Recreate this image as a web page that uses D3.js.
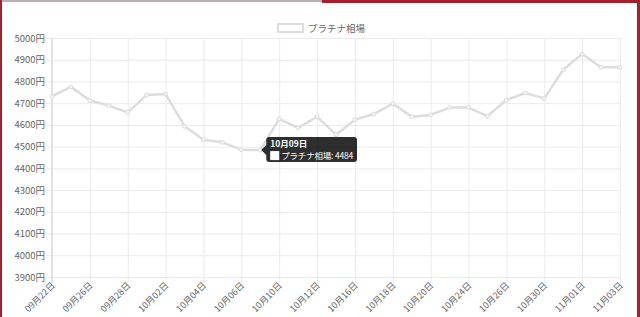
<!DOCTYPE html>
<html lang="ja">
  <head>
    <meta charset="utf-8">
    <title>プラチナ相場</title>
    <script src="https://d3js.org/d3.v7.min.js" charset="utf-8"></script>
    <style>
      html, body { margin: 0; padding: 0; background: #fff; }
      #chart text { font-family: "Noto Sans CJK JP", "Noto Sans", Arial, sans-serif; }
    </style>
  </head>
  <body>
    <div id="chart"></div>
  <script type="text/javascript">
    // data
    var dates = ["09月22日","09月25日","09月26日","09月27日","09月28日","09月29日","10月02日","10月03日",
                 "10月04日","10月05日","10月06日","10月09日","10月10日","10月11日","10月12日","10月13日",
                 "10月16日","10月17日","10月18日","10月19日","10月20日","10月23日","10月24日","10月25日",
                 "10月26日","10月27日","10月30日","10月31日","11月01日","11月02日","11月03日"];
    var prices = [4731,4775,4712,4689,4658,4738,4742,4594,4532,4520,4486,4484,4628,4586,4637,4555,
                  4624,4650,4698,4638,4646,4680,4680,4640,4715,4747,4722,4854,4926,4865,4865];
    var seriesName = "プラチナ相場";
    var yTicks = [3900,4000,4100,4200,4300,4400,4500,4600,4700,4800,4900,5000];
    var xTickLabels = dates.filter(function(d, i) { return i % 2 == 0; });
    var tooltipIndex = 11;

    var W = 640, H = 317;
    var margin = {top: 38, right: 20, bottom: 40, left: 52},
        width = W - margin.left - margin.right,
        height = H - margin.top - margin.bottom;

    var root = d3.select("#chart").append("svg")
        .attr("width", W)
        .attr("height", H);

    // page frame
    root.append("rect").attr("x", 0).attr("y", 0).attr("width", 322).attr("height", 2).attr("fill", "#b9b0b2");
    root.append("rect").attr("x", 322).attr("y", 0).attr("width", W - 322).attr("height", 3).attr("fill", "#a51f2d");
    root.append("rect").attr("x", 0).attr("y", 0).attr("width", 2).attr("height", H).attr("fill", "#a51f2d");
    root.append("rect").attr("x", W - 3).attr("y", 0).attr("width", 3).attr("height", H).attr("fill", "#a51f2d");

    var svg = root.append("g")
        .attr("transform", "translate(" + margin.left + "," + margin.top + ")");

    var x = d3.scalePoint()
        .domain(dates)
        .range([0, width]);

    var y = d3.scaleLinear()
        .domain([3900, 5000])
        .range([height, 0]);

    var yAxis = svg.append("g")
        .call(d3.axisLeft(y)
          .tickValues(yTicks)
          .tickSize(-width)
          .tickSizeOuter(0)
          .tickFormat(function(d) { return d + "円"; }));
    yAxis.select(".domain").remove();
    yAxis.selectAll(".tick line")
        .attr("x1", -6)
        .attr("stroke", "#ebebeb");
    yAxis.selectAll(".tick text")
        .attr("x", -7)
        .attr("fill", "#666")
        .style("font-size", "9.5px");

    var xAxis = svg.append("g")
        .attr("transform", "translate(0," + height + ")")
        .call(d3.axisBottom(x)
          .tickValues(xTickLabels)
          .tickSize(-height)
          .tickSizeOuter(0));
    xAxis.select(".domain").remove();
    xAxis.selectAll(".tick line")
        .attr("y1", 6)
        .attr("stroke", "#ebebeb");
    xAxis.selectAll(".tick text")
        .attr("y", 0)
        .attr("dy", 0)
        .attr("transform", "translate(3,9) rotate(-45)")
        .attr("text-anchor", "end")
        .attr("fill", "#666")
        .style("font-size", "9px");

    // left axis line
    svg.append("line")
        .attr("x1", 0).attr("x2", 0)
        .attr("y1", 0).attr("y2", height + 6)
        .attr("stroke", "#dcdcdc")
        .attr("stroke-width", 1.5);

    // the series
    var line = d3.line()
        .x(function(d, i) { return x(dates[i]); })
        .y(function(d) { return y(d); });

    svg.append("path")
        .datum(prices)
        .attr("d", line)
        .attr("fill", "none")
        .attr("stroke", "#dddddd")
        .attr("stroke-width", 2.5)
        .attr("stroke-linejoin", "round");

    svg.selectAll(".pt")
      .data(prices)
      .enter()
      .append("circle")
        .attr("class", "pt")
        .attr("cx", function(d, i) { return x(dates[i]); })
        .attr("cy", function(d) { return y(d); })
        .attr("r", 2)
        .attr("fill", "#f4f4f4")
        .attr("stroke", "#dddddd")
        .attr("stroke-width", 1);

    // legend
    var legend = root.append("g").attr("transform", "translate(277,23)");
    legend.append("rect")
        .attr("x", 1).attr("y", 1)
        .attr("width", 25).attr("height", 8)
        .attr("fill", "#fff")
        .attr("stroke", "#dddddd")
        .attr("stroke-width", 2);
    legend.append("text")
        .attr("x", 31).attr("y", 8.5)
        .attr("fill", "#666")
        .style("font-size", "9.5px")
        .text(seriesName);

    // tooltip
    var tx = x(dates[tooltipIndex]), ty = y(prices[tooltipIndex]);
    var tip = svg.append("g")
        .attr("transform", "translate(" + (tx + 6) + "," + (ty - 13) + ")");
    var tipBg = tip.append("path")
        .attr("fill", "rgba(0,0,0,0.82)");
    var t1 = tip.append("text")
        .attr("x", 4).attr("y", 10)
        .attr("fill", "#fff")
        .style("font-size", "8.5px")
        .style("font-weight", "bold")
        .text(dates[tooltipIndex]);
    tip.append("rect")
        .attr("x", 4.5).attr("y", 14.5)
        .attr("width", 8).attr("height", 8)
        .attr("fill", "#fff")
        .attr("stroke", "#fff");
    var t2 = tip.append("text")
        .attr("x", 15).attr("y", 22)
        .attr("fill", "#fff")
        .style("font-size", "8.5px")
        .style("letter-spacing", "-0.2px")
        .text(seriesName + ": " + prices[tooltipIndex]);
    var bw = Math.max(4 + t1.node().getComputedTextLength(), 15 + t2.node().getComputedTextLength()) + 4;
    tipBg.attr("d", "M3,0 H" + (bw - 3) + " Q" + bw + ",0 " + bw + ",3 V22 Q" + bw + ",25 " + (bw - 3) + ",25 H3 Q0,25 0,22 V18 L-5,13 L0,8 V3 Q0,0 3,0 Z");
  </script>
  </body>
</html>
